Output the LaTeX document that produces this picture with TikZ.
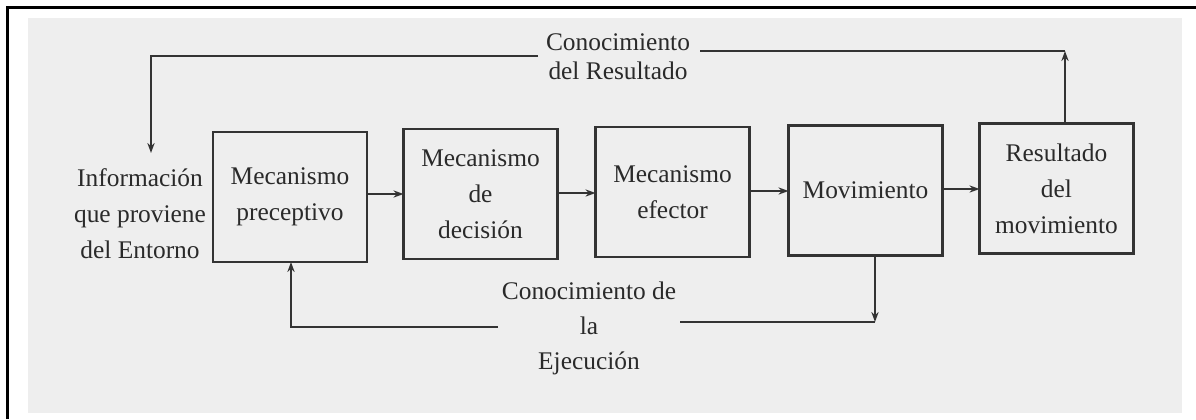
\documentclass[tikz,border=0pt]{standalone}
\usepackage{fontspec}
\setmainfont{Liberation Serif}
\usetikzlibrary{arrows.meta}
\definecolor{ink}{HTML}{333333}
\definecolor{txt}{HTML}{2A2A2A}
\definecolor{paper}{HTML}{EEEEEE}
\begin{document}
\begin{tikzpicture}[x=0.5pt,y=-0.5pt,
  line/.style={draw=ink,line width=1.2pt},
  arr/.style={line,-{Stealth[length=5pt,width=3.6pt]}},
  box/.style={line,minimum width=77pt,minimum height=65pt,inner sep=0pt,outer sep=0pt,
    align=center,text=txt,font=\fontsize{12.7}{18}\selectfont},
  lab/.style={align=center,text=txt,inner sep=0pt}]
\useasboundingbox (0,0) rectangle (1196,419);
% scan background and frame
\fill[paper] (28,18) rectangle (1182,413);
\draw[black,line width=1.5pt] (7,419) -- (7,7) -- (1196,7);
% boxes
\node[box] (b1) at (290,197) {Mecanismo\\preceptivo};
\node[box] (b2) at (480.5,194) {Mecanismo\\de\\decisión};
\node[box] (b3) at (672.5,192) {Mecanismo\\efector};
\node[box] (b4) at (865.5,190.5) {Movimiento};
\node[box] (b5) at (1056.5,188.5) {Resultado\\del\\movimiento};
% labels
\node[lab,font=\fontsize{12.7}{18}\selectfont] (info) at (140,214) {Información\\que proviene\\del Entorno};
\node[lab,font=\fontsize{12.7}{14.5}\selectfont] (kr) at (618,57) {Conocimiento\\del Resultado};
\node[lab,font=\fontsize{12.7}{17.5}\selectfont] (ke) at (589,328) {Conocimiento de\\la\\Ejecución};
% chain arrows
\draw[arr] (b1.east |- 0,194) -- (b2.west |- 0,194);
\draw[arr] (b2.east |- 0,193) -- (b3.west |- 0,193);
\draw[arr] (b3.east |- 0,191) -- (b4.west |- 0,191);
\draw[arr] (b4.east |- 0,189) -- (b5.west |- 0,189);
% knowledge of result
\coordinate (tr) at (1065,51);
\coordinate (trl) at (700,51);
\coordinate (tl1) at (538,56);
\coordinate (tl2) at (151,56);
\coordinate (tle) at (151,153);
\draw[arr] (tr |- b5.north) -- (tr);
\draw[line] (tr) -- (trl);
\draw[arr] (tl1) -- (tl2) -- (tle);
% knowledge of execution
\coordinate (br) at (875,322);
\coordinate (brl) at (680,322);
\coordinate (bl1) at (498,327);
\coordinate (bl2) at (291,327);
\draw[arr] (br |- b4.south) -- (br);
\draw[line] (br) -- (brl);
\draw[arr] (bl1) -- (bl2) -- (bl2 |- b1.south);
\end{tikzpicture}
\end{document}
